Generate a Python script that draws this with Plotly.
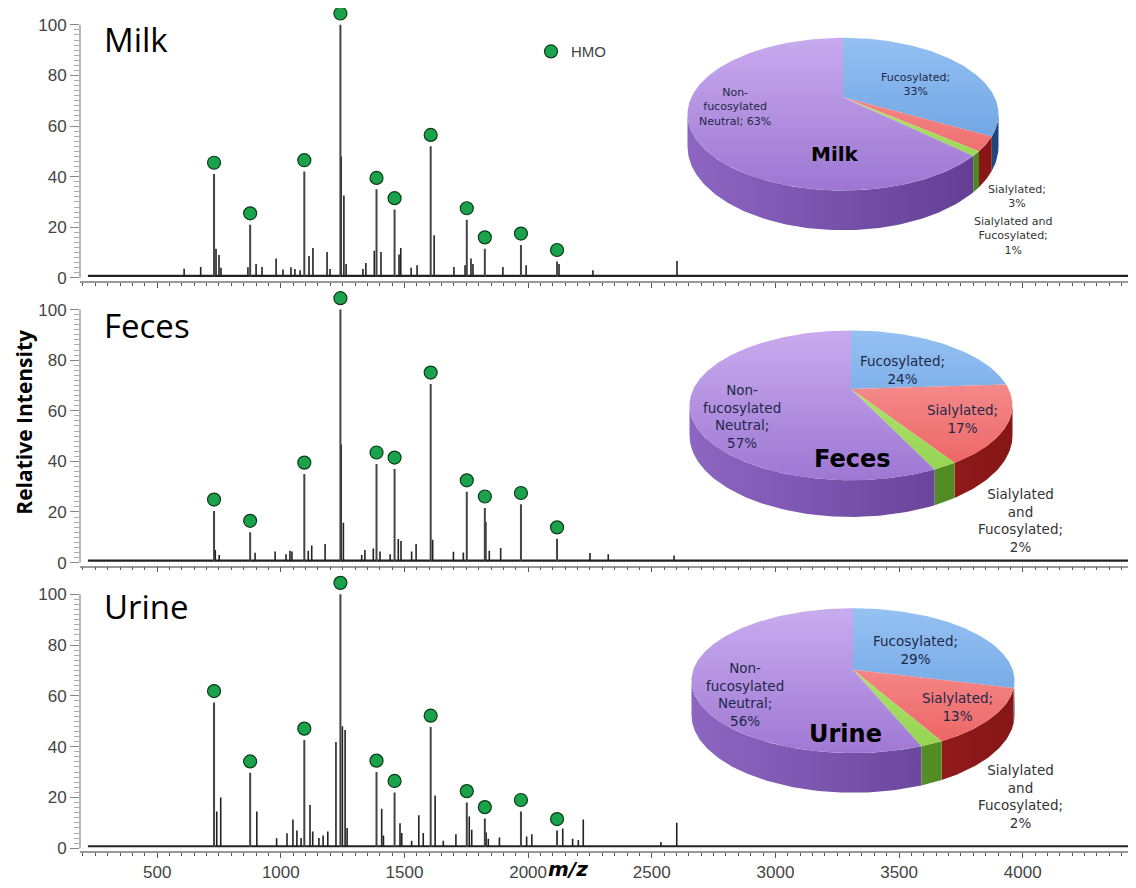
import math
import plotly.graph_objects as go

# window 1136x888; the page body has an 8px margin, so the figure is drawn at (8,8)
WIN_W, WIN_H = 1136, 888
OFF = 8
FW, FH = WIN_W - OFF, WIN_H - OFF

# ---------------- data ----------------
hmo_mz = [730, 876, 1095, 1241, 1387, 1460, 1606, 1752, 1825, 1971, 2117]
milk_hmo = [41, 21, 42, 100, 35, 27, 52, 23, 11.5, 13, 6.5]
feces_hmo = [20.4, 12, 35, 100, 39, 37, 70.6, 28, 21.6, 23, 9.4]
urine_hmo = [57.4, 29.7, 42.6, 100, 30, 22, 47.7, 18, 11.7, 14.5, 7]

milk_minor_mz = [609, 676, 738, 750, 758, 867, 900, 924, 981, 1009, 1041, 1057, 1078, 1114, 1130,
                 1187, 1199, 1244, 1255, 1264, 1332, 1344, 1378, 1405, 1478, 1485, 1527, 1551, 1620,
                 1700, 1745, 1769, 1777, 1898, 1992, 2125, 2262, 2602]
milk_minor_h = [3.6, 4.3, 11.5, 9, 4, 4.2, 5.5, 4.3, 7.6, 3.3, 4.2, 3.5, 3, 8.6, 11.8,
                10.2, 3.5, 48, 32.5, 5.5, 3.5, 5.9, 10.7, 10.2, 9.2, 11.8, 4, 5, 16.8,
                4.3, 5, 7.6, 5.5, 4.3, 5, 5.5, 3, 6.7]

feces_minor_mz = [735, 751, 896, 977, 1021, 1037, 1045, 1111, 1125, 1179, 1244, 1253, 1327, 1340,
                  1374, 1401, 1442, 1475, 1486, 1529, 1547, 1614, 1698, 1738, 1829, 1843, 1889,
                  2250, 2324, 2590]
feces_minor_h = [5, 3, 3.9, 4.4, 3.3, 4.7, 4.4, 4.7, 6.7, 7.3, 46.7, 15.7, 3, 5,
                 5.6, 4.4, 3.3, 9.3, 8.5, 4.4, 7.3, 9, 4.3, 4, 16, 4.7, 5.8,
                 3.8, 3.3, 2.8]

urine_minor_mz = [741, 757, 903, 983, 1025, 1049, 1065, 1082, 1118, 1129, 1154, 1171, 1190, 1223,
                  1249, 1260, 1268, 1408, 1415, 1482, 1489, 1529, 1558, 1576, 1624, 1657, 1708,
                  1762, 1772, 1830, 1839, 1884, 1994, 2015, 2140, 2180, 2203, 2223, 2537, 2601]
urine_minor_h = [14.5, 20, 14.5, 3.9, 5.9, 11.3, 7, 4, 17, 6.6, 4, 5, 6.6, 41.8,
                 48, 46.6, 8, 15.6, 5, 9.8, 6, 3, 13, 6, 20.8, 3, 5.5,
                 12.5, 7.3, 6.3, 3.7, 4.2, 4.6, 5.5, 7.8, 3.7, 3.3, 11.3, 2.5, 10]

panel_names = ["Milk", "Feces", "Urine"]
x_ticks = [500, 1000, 1500, 2000, 2500, 3000, 3500, 4000]
y_ticks = [0, 20, 40, 60, 80, 100]
y_minor_ticks = list(range(0, 101, 2))

pie_categories = ["Fucosylated", "Sialylated", "Sialylated and Fucosylated", "Non-fucosylated Neutral"]
milk_pie = [33, 3, 1, 63]
feces_pie = [24, 17, 2, 57]
urine_pie = [29, 13, 2, 56]

# ---------------- layout helpers (window pixel -> paper) ----------------
def pxx(px):
    return (px - OFF) / FW


def pxy(py):
    return 1 - (py - OFF) / FH


X_LO, X_HI = 188.0, 4458.0
X_LEFT_PX = 80
Y_LO, Y_HI = -1.2, 106.0
panels = [  # window pixel of y=0, px per unit
    (280.0, 2.55),
    (567.0, 2.55),
    (855.0, 2.56),
]

fig = go.Figure()
layout = dict(
    width=FW, height=FH, margin=dict(l=0, r=0, t=0, b=0),
    paper_bgcolor="white", plot_bgcolor="rgba(0,0,0,0)",
    showlegend=True,
    legend=dict(x=pxx(531), y=pxy(52), xanchor="left", yanchor="middle",
                bgcolor="rgba(0,0,0,0)", font=dict(family="Liberation Sans", size=15, color="#444")),
)

TICKFONT = dict(family="Liberation Sans", size=17, color="#444")

spectra = [
    (milk_hmo, milk_minor_mz, milk_minor_h),
    (feces_hmo, feces_minor_mz, feces_minor_h),
    (urine_hmo, urine_minor_mz, urine_minor_h),
]

annotations = []
shapes = []
for i, ((p0, sc), (hmo_h, mn_mz, mn_h)) in enumerate(zip(panels, spectra)):
    n = i + 1
    xa = "x" if n == 1 else f"x{n}"
    ya = "y" if n == 1 else f"y{n}"
    top_px = p0 - Y_HI * sc
    bot_px = p0 - Y_LO * sc
    layout["xaxis" if n == 1 else f"xaxis{n}"] = dict(
        domain=[pxx(X_LEFT_PX), 1], range=[X_LO, X_HI], anchor=ya,
        showline=True, linecolor="#999", linewidth=1.5, mirror=False,
        ticks="outside", ticklen=5, tickcolor="#555", tickwidth=1,
        tickvals=x_ticks, showticklabels=(n == 3), tickfont=TICKFONT,
        minor=dict(dtick=50, tick0=0, ticks="outside", ticklen=3, tickcolor="#555"),
        showgrid=False, zeroline=False, fixedrange=True,
    )
    layout["yaxis" if n == 1 else f"yaxis{n}"] = dict(
        domain=[pxy(bot_px), pxy(top_px)], range=[Y_LO, Y_HI], anchor=xa,
        showline=False,
        ticks="outside", ticklen=9, tickcolor="#888", tickvals=y_ticks,
        tickfont=TICKFONT,
        minor=dict(tickvals=y_minor_ticks, ticks="outside", ticklen=5, tickcolor="#aaa"),
        showgrid=False, zeroline=False, fixedrange=True,
    )
    # vertical axis line spanning 0..100 only
    shapes.append(dict(type="line", xref=f"{xa} domain", yref=ya, x0=0, x1=0, y0=y_ticks[0], y1=y_ticks[-1],
                       line=dict(color="#888", width=1.2)))
    # baseline
    fig.add_trace(go.Scatter(x=[220, X_HI], y=[0.8, 0.8], mode="lines",
                             line=dict(color="#222", width=2.2), xaxis=xa, yaxis=ya,
                             showlegend=False, hoverinfo="skip"))
    # minor peaks
    xs, ys = [], []
    for m, h in zip(mn_mz, mn_h):
        xs += [m, m, None]
        ys += [0.5, h, None]
    fig.add_trace(go.Scatter(x=xs, y=ys, mode="lines", line=dict(color="#222", width=1.6),
                             xaxis=xa, yaxis=ya, showlegend=False, hoverinfo="skip"))
    # HMO peaks
    xs, ys = [], []
    for m, h in zip(hmo_mz, hmo_h):
        xs += [m, m, None]
        ys += [0.5, h, None]
    fig.add_trace(go.Scatter(x=xs, y=ys, mode="lines", line=dict(color="#444", width=2),
                             xaxis=xa, yaxis=ya, showlegend=False, hoverinfo="skip"))
    # HMO markers
    fig.add_trace(go.Scatter(x=hmo_mz, y=[h + 4.5 for h in hmo_h], mode="markers", name="HMO",
                             marker=dict(size=13, color="#1aa34a", line=dict(color="#0c3a1a", width=1.2)),
                             cliponaxis=False,
                             xaxis=xa, yaxis=ya, showlegend=(n == 1)))
    # panel title
    annotations.append(dict(x=102, y=[40, 328, 611][i], xref="x4", yref="y4", text=panel_names[i],
                            showarrow=False, xanchor="left", yanchor="middle",
                            font=dict(family="Open Sans", size=33, color="black")))

# ---------------- 3D pies on a pixel overlay axis (window pixels) ----------------
layout["xaxis4"] = dict(domain=[0, 1], range=[OFF, WIN_W], anchor="y4", visible=False, fixedrange=True)
layout["yaxis4"] = dict(domain=[0, 1], range=[WIN_H, OFF], anchor="x4", visible=False, fixedrange=True)

top_light = ["#94c0f2", "#f8a0a0", "#c0ec86", "#c8aaee"]
top_dark = ["#5f98dc", "#ec5e5e", "#92d24c", "#9d76d2"]
side_light = ["#3a6cb0", "#b52a2a", "#6aaa30", "#8d66c2"]
side_dark = ["#1e4680", "#861616", "#4a8420", "#5f3b90"]


def pie3d(values, cx, vy, T, F, Wd, S):
    k = (T - F) / (T + F)
    B = T * (1 - k)
    s = -k
    A = Wd / (math.sqrt(1 - s * s) / (1 + k * s))

    def P(phi):
        ph = math.radians(phi)
        u, v = math.cos(ph), -math.sin(ph)
        d = 1 + k * v
        return cx + A * u / d, vy + B * v / d, S * (1 + k) / d

    lo = -180 - math.degrees(math.asin(k))
    hi = math.degrees(math.asin(k))
    total = float(sum(values))
    start = 90.0
    spans = []
    for val in values:
        end = start - 360.0 * val / total
        spans.append((start, end))
        start = end
    # sides
    for idx, (st, en) in enumerate(spans):
        a1, a2 = max(en, lo), min(st, hi)
        if a2 <= a1:
            continue
        nstep = max(2, int((a2 - a1) / 1.0) + 1)
        angs = [a2 - (a2 - a1) * j / (nstep - 1) for j in range(nstep)]
        tx, ty, bx, by = [], [], [], []
        for a in angs:
            x, y, sh = P(a)
            tx.append(x); ty.append(y); bx.append(x); by.append(y + sh)
        px_ = tx + bx[::-1] + [tx[0]]
        py_ = ty + by[::-1] + [ty[0]]
        fig.add_trace(go.Scatter(x=px_, y=py_, mode="lines", fill="toself",
                                 fillgradient=dict(type="horizontal", start=cx - Wd, stop=cx + Wd,
                                                   colorscale=[[0, side_light[idx]], [1, side_dark[idx]]]),
                                 line=dict(color=side_dark[idx], width=0), xaxis="x4", yaxis="y4",
                                 showlegend=False, hoverinfo="skip"))
    # tops
    for idx, (st, en) in enumerate(spans):
        nstep = max(2, int((st - en) / 1.0) + 1)
        xs, ys = [cx], [vy]
        for j in range(nstep):
            a = st - (st - en) * j / (nstep - 1)
            x, y, _ = P(a)
            xs.append(x); ys.append(y)
        xs.append(cx); ys.append(vy)
        fig.add_trace(go.Scatter(x=xs, y=ys, mode="lines", fill="toself",
                                 fillgradient=dict(type="vertical", start=vy - T, stop=vy + F,
                                                   colorscale=[[0, top_light[idx]], [1, top_dark[idx]]]),
                                 line=dict(color=top_dark[idx], width=0), xaxis="x4", yaxis="y4",
                                 showlegend=False, hoverinfo="skip"))


pie3d(milk_pie, 843, 98, 60, 94, 155.5, 40)
pie3d(feces_pie, 851, 392, 59, 92, 161.5, 37)
pie3d(urine_pie, 853, 675, 62, 84, 161.5, 40)

IN_COL = "#1d2947"
OUT_COL = "#333"


def lab(x, y, text, size, color, bold=False):
    annotations.append(dict(x=x, y=y, xref="x4", yref="y4", text=("<b>%s</b>" % text) if bold else text,
                            showarrow=False, xanchor="center", yanchor="middle", align="center",
                            font=dict(family="DejaVu Sans", size=size, color=color)))


def pct(vals, i):
    return "%d%%" % vals[i]


# Milk
lab(915, 85, "Fucosylated;<br>" + pct(milk_pie, 0), 11, IN_COL)
lab(735, 108, "Non-<br>fucosylated<br>Neutral; " + pct(milk_pie, 3), 11, IN_COL)
lab(835, 155, "Milk", 20, "black", True)
lab(1017, 198, "Sialylated;<br>" + pct(milk_pie, 1), 11, OUT_COL)
lab(1013, 238, "Sialylated and<br>Fucosylated;<br>" + pct(milk_pie, 2), 11, OUT_COL)
# Feces
lab(902, 373, "Fucosylated;<br>" + pct(feces_pie, 0), 13.5, IN_COL)
lab(962, 422, "Sialylated;<br>" + pct(feces_pie, 1), 13.5, IN_COL)
lab(742, 420, "Non-<br>fucosylated<br>Neutral;<br>" + pct(feces_pie, 3), 13.5, IN_COL)
lab(852, 463, "Feces", 24, "black", True)
lab(1020, 525, "Sialylated<br>and<br>Fucosylated;<br>" + pct(feces_pie, 2), 13.5, OUT_COL)
# Urine
lab(915, 655, "Fucosylated;<br>" + pct(urine_pie, 0), 13.5, IN_COL)
lab(957, 713, "Sialylated;<br>" + pct(urine_pie, 1), 13.5, IN_COL)
lab(745, 700, "Non-<br>fucosylated<br>Neutral;<br>" + pct(urine_pie, 3), 13.5, IN_COL)
lab(845, 740, "Urine", 24, "black", True)
lab(1020, 803, "Sialylated<br>and<br>Fucosylated;<br>" + pct(urine_pie, 2), 13.5, OUT_COL)

# axis titles
annotations.append(dict(x=24, y=426, xref="x4", yref="y4", text="<b>Relative Intensity</b>",
                        textangle=-90, showarrow=False, xanchor="center", yanchor="middle",
                        font=dict(family="Open Sans", size=21, color="black")))
annotations.append(dict(x=568, y=876, xref="x4", yref="y4", text="<b><i>m/z</i></b>",
                        showarrow=False, xanchor="center", yanchor="middle",
                        font=dict(family="DejaVu Sans", size=20, color="black")))

layout["annotations"] = annotations
layout["shapes"] = shapes
fig.update_layout(**layout)
fig.write_html("out.html")
